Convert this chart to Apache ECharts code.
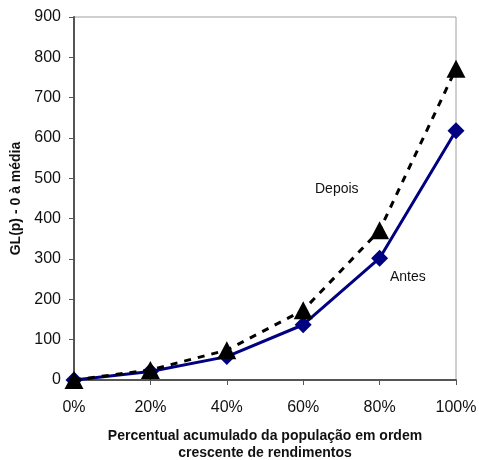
<!DOCTYPE html>
<html><head><meta charset="utf-8">
<script src="https://cdn.jsdelivr.net/npm/echarts@6/dist/echarts.min.js"></script>
<style>html,body{margin:0;padding:0;background:#fff}#c{width:479px;height:460px}</style>
</head><body><div id="c"></div>
<script>
const xPct = [0, 20, 40, 60, 80, 100];
const antes = [0, 21, 58, 137, 302, 618];
const depois = [0, 25, 74, 173, 371, 772];
const yTicks = [0, 100, 200, 300, 400, 500, 600, 700, 800, 900];

const chart = echarts.init(document.getElementById('c'));
const font = 'Liberation Sans, Arial, sans-serif';
chart.setOption({
  animation: false,
  grid: { left: 74, right: 23, top: 17, bottom: 80, show: true, borderColor: '#a0a0a0', borderWidth: 1,
    containLabel: false, outerBoundsMode: 'none' },
  xAxis: {
    type: 'value', min: 0, max: 100, interval: 20,
    axisLine: { lineStyle: { color: '#555', width: 2 } },
    axisTick: { show: true, length: 5, lineStyle: { color: '#555' } },
    splitLine: { show: false },
    axisLabel: { formatter: '{value}%', color: '#111', fontSize: 16, fontFamily: font, margin: 20 },
    name: 'Percentual acumulado da população em ordem\ncrescente de rendimentos',
    nameLocation: 'middle', nameGap: 48,
    nameTextStyle: { fontWeight: 'bold', fontSize: 14, fontFamily: font, color: '#111', lineHeight: 17 }
  },
  yAxis: {
    type: 'value', min: 0, max: 900, interval: 100,
    axisLine: { show: true, lineStyle: { color: '#555', width: 2 } },
    axisTick: { show: true, length: 5, lineStyle: { color: '#555' } },
    splitLine: { show: false },
    axisLabel: { color: '#111', fontSize: 16, fontFamily: font, margin: 13,
      formatter: v => String(yTicks.includes(v) ? v : '') },
    name: 'GL(p) - 0 à média', nameLocation: 'middle', nameGap: 48,
    nameTextStyle: { fontWeight: 'bold', fontSize: 14, fontFamily: font, color: '#111' }
  },
  series: [
    {
      name: 'Antes', type: 'line', data: xPct.map((x, i) => [x, antes[i]]),
      lineStyle: { color: '#000080', width: 3 },
      itemStyle: { color: '#000080' },
      symbol: 'diamond', symbolSize: 17, z: 3
    },
    {
      name: 'Depois', type: 'line', data: xPct.map((x, i) => [x, depois[i]]),
      lineStyle: { color: '#000', width: 3, type: [7, 7] },
      itemStyle: { color: '#000' },
      symbol: 'triangle', symbolSize: [19, 18], z: 4
    }
  ],
  graphic: [
    { type: 'text', left: 315, top: 182, style: { text: 'Depois', font: '14px Liberation Sans, Arial, sans-serif', fill: '#111' } },
    { type: 'text', left: 390, top: 270, style: { text: 'Antes', font: '14px Liberation Sans, Arial, sans-serif', fill: '#111' } }
  ]
});
</script></body></html>
